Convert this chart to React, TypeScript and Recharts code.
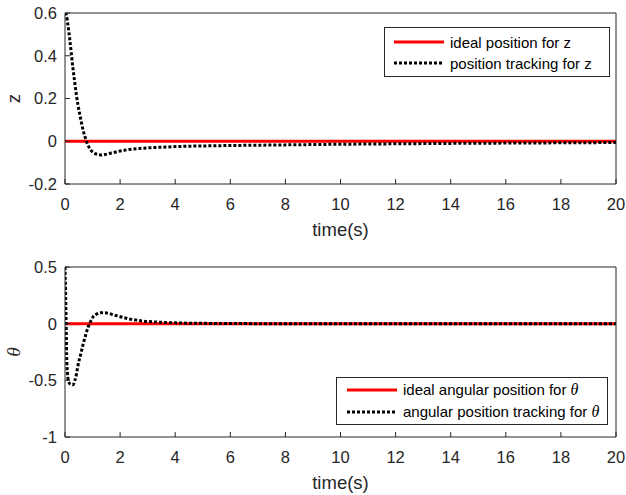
import React from 'react';
import { LineChart, Line, XAxis, YAxis, Legend } from 'recharts';

// ---------- data ----------
const xTicks = [0, 2, 4, 6, 8, 10, 12, 14, 16, 18, 20];
const zTicks = [-0.2, 0, 0.2, 0.4, 0.6];
const thetaTicks = [-1, -0.5, 0, 0.5];

const idealTime = [0, 20];
const idealZ = [0, 0];
const idealTheta = [0, 0];

const timeZ = [0, 0.05, 0.1, 0.17, 0.23, 0.29, 0.35, 0.41, 0.47, 0.53, 0.6, 0.67, 0.74, 0.8, 0.86, 0.93, 1.02, 1.14, 1.3, 1.45, 1.68, 2.0, 2.3, 2.7, 3.0, 3.5, 4, 5, 6, 8, 10, 12, 14, 17, 20];
const zTrack = [0.6, 0.59, 0.55, 0.48, 0.41, 0.34, 0.28, 0.22, 0.17, 0.13, 0.085, 0.045, 0.015, -0.008, -0.025, -0.04, -0.052, -0.06, -0.064, -0.062, -0.055, -0.046, -0.039, -0.034, -0.031, -0.028, -0.025, -0.022, -0.02, -0.017, -0.014, -0.012, -0.01, -0.008, -0.006];

const timeTheta = [0, 0.02, 0.04, 0.06, 0.09, 0.13, 0.2, 0.29, 0.36, 0.42, 0.47, 0.56, 0.65, 0.75, 0.84, 0.93, 1.02, 1.15, 1.32, 1.5, 1.8, 2.1, 2.41, 2.8, 3.26, 4, 5, 6, 8, 20];
const thetaTrack = [0.5, 0.3, 0.02, -0.28, -0.44, -0.51, -0.535, -0.54, -0.5, -0.44, -0.37, -0.28, -0.19, -0.1, -0.03, 0.02, 0.06, 0.085, 0.097, 0.095, 0.075, 0.055, 0.038, 0.024, 0.015, 0.007, 0.003, 0.001, 0, 0];

const zNames = ['ideal position for z', 'position tracking for z'];
const thetaNames = ['ideal angular position for θ', 'angular position tracking for θ'];

// ---------- tables built from arrays ----------
const toRows = (t: number[], v: number[]) => t.map((x, i) => ({ t: x, v: v[i] }));
const idealZRows = toRows(idealTime, idealZ);
const idealThetaRows = toRows(idealTime, idealTheta);
const zRows = toRows(timeZ, zTrack);
const thetaRows = toRows(timeTheta, thetaTrack);

// ---------- styles ----------
const INK = '#262626';
const FONT = '"Liberation Sans", Arial, Helvetica, sans-serif';
const SERIF = '"Liberation Serif", "Times New Roman", serif';
const TICK_FONT = 16.5;
const LABEL_FONT = 18.5;
const LEGEND_FONT = 15;

const W = 626;

const renderWithTheta = (s: string) => {
  const idx = s.indexOf('θ');
  if (idx < 0) return s;
  return (
    <>
      {s.slice(0, idx)}
      <span style={{ fontFamily: SERIF, fontStyle: 'italic', fontSize: LEGEND_FONT + 1 }}>θ</span>
      {s.slice(idx + 1)}
    </>
  );
};

const makeLegend = (
  names: string[],
  opts: { w: number; h: number; rows: number[]; lx0: number; lx1: number; tx: number }
) =>
  (props: any) => {
    const raw = (props.payload || []).slice();
    const payload = raw.sort((a: any, b: any) => names.indexOf(String(a.value)) - names.indexOf(String(b.value)));
    return (
      <div
        style={{
          position: 'relative',
          width: opts.w,
          height: opts.h,
          boxSizing: 'border-box',
          border: `1px solid ${INK}`,
          background: '#fff',
          fontFamily: FONT,
          fontSize: LEGEND_FONT,
          color: '#000',
        }}
      >
        <svg width={opts.w} height={opts.h} style={{ position: 'absolute', left: -1, top: -1 }}>
          {payload.map((p: any, i: number) => (
            <line
              key={i}
              x1={opts.lx0}
              x2={opts.lx1}
              y1={opts.rows[i]}
              y2={opts.rows[i]}
              stroke={p.color}
              strokeWidth={3}
              strokeDasharray={p.payload?.strokeDasharray}
            />
          ))}
        </svg>
        {payload.map((p: any, i: number) => (
          <div
            key={'t' + i}
            style={{
              position: 'absolute',
              left: opts.tx - 1,
              top: opts.rows[i] - 1,
              transform: 'translateY(-50%)',
              whiteSpace: 'nowrap',
              lineHeight: 1,
            }}
          >
            {renderWithTheta(String(p.value))}
          </div>
        ))}
      </div>
    );
  };

const yTitle = (text: string, italic: boolean) => (props: any) => {
  const vb = props.viewBox || { x: 8, y: 13, width: 57, height: 171 };
  const x = vb.x + 5.3;
  const y = vb.y + vb.height / 2;
  return (
    <text
      x={x}
      y={y}
      transform={`rotate(-90, ${x}, ${y})`}
      textAnchor="middle"
      dominantBaseline="central"
      fill={INK}
      fontSize={italic ? LABEL_FONT + 1 : LABEL_FONT}
      fontFamily={italic ? SERIF : FONT}
      fontStyle={italic ? 'italic' : 'normal'}
    >
      {text}
    </text>
  );
};

const xTitle = (props: any) => {
  const vb = props.viewBox || { x: 65, y: 184, width: 551, height: 64 };
  return (
    <text
      x={vb.x + vb.width / 2}
      y={vb.y + 45}
      textAnchor="middle"
      dominantBaseline="central"
      fill={INK}
      fontSize={LABEL_FONT}
      fontFamily={FONT}
    >
      time(s)
    </text>
  );
};

const noTick = () => null;

const tickStyle = { fill: INK, fontSize: TICK_FONT, fontFamily: FONT };

function Panel(props: {
  height: number;
  yDomain: [number, number];
  yTicks: number[];
  yLabel: string;
  italic: boolean;
  ideal: any[];
  track: any[];
  names: string[];
  legendPos: { left: number; top: number };
  legendOpts: { w: number; h: number; rows: number[]; lx0: number; lx1: number; tx: number };
}) {
  return (
    <LineChart width={W} height={props.height} margin={{ top: 12, right: 9, left: 8, bottom: 0 }}>
      <XAxis
        dataKey="t"
        type="number"
        domain={[0, 20]}
        ticks={xTicks}
        height={64}
        tickSize={-5}
        tickMargin={19}
        tick={tickStyle}
        stroke={INK}
        axisLine={{ stroke: INK }}
        tickLine={{ stroke: INK }}
        label={xTitle}
        allowDataOverflow
      />
      <XAxis
        xAxisId="top"
        orientation="top"
        dataKey="t"
        type="number"
        domain={[0, 20]}
        ticks={xTicks}
        height={1}
        tickSize={-5}
        tick={noTick}
        axisLine={{ stroke: INK }}
        tickLine={{ stroke: INK }}
      />
      <YAxis
        type="number"
        domain={props.yDomain}
        ticks={props.yTicks}
        width={57}
        tickSize={-5}
        tickMargin={13}
        tick={tickStyle}
        axisLine={{ stroke: INK }}
        tickLine={{ stroke: INK }}
        label={yTitle(props.yLabel, props.italic)}
        allowDataOverflow
      />
      <YAxis
        yAxisId="right"
        orientation="right"
        type="number"
        domain={props.yDomain}
        ticks={props.yTicks}
        width={1}
        tickSize={-5}
        tick={noTick}
        axisLine={{ stroke: INK }}
        tickLine={{ stroke: INK }}
      />
      <Line
        data={props.ideal}
        dataKey="v"
        name={props.names[0]}
        stroke="#ff0000"
        strokeWidth={3}
        dot={false}
        activeDot={false}
        isAnimationActive={false}
        type="linear"
      />
      <Line
        data={props.track}
        dataKey="v"
        name={props.names[1]}
        stroke="#000000"
        strokeWidth={3}
        strokeDasharray="3 2"
        dot={false}
        activeDot={false}
        isAnimationActive={false}
        type="monotone"
      />
      <Legend
        layout="vertical"
        align="center"
        verticalAlign="middle"
        itemSorter={null as any}
        wrapperStyle={{ left: props.legendPos.left, top: props.legendPos.top, width: props.legendOpts.w, height: props.legendOpts.h }}
        content={makeLegend(props.names, props.legendOpts)}
      />
    </LineChart>
  );
}

export default function App() {
  return (
    <div
      style={{
        position: 'absolute',
        left: 0,
        top: 0,
        width: W,
        height: 495,
        background: '#fff',
        fontFamily: FONT,
        overflow: 'hidden',
      }}
    >
      <div style={{ position: 'absolute', left: 0, top: 0 }}>
        <Panel
          height={248}
          yDomain={[-0.2, 0.6]}
          yTicks={zTicks}
          yLabel="z"
          italic={false}
          ideal={idealZRows}
          track={zRows}
          names={zNames}
          legendPos={{ left: 384, top: 27 }}
          legendOpts={{ w: 226, h: 50, rows: [15, 36], lx0: 10, lx1: 60, tx: 66 }}
        />
      </div>
      <div style={{ position: 'absolute', left: 0, top: 254 }}>
        <Panel
          height={247}
          yDomain={[-1, 0.5]}
          yTicks={thetaTicks}
          yLabel="θ"
          italic={true}
          ideal={idealThetaRows}
          track={thetaRows}
          names={thetaNames}
          legendPos={{ left: 336, top: 123 }}
          legendOpts={{ w: 272, h: 48, rows: [13, 35], lx0: 11, lx1: 61, tx: 67 }}
        />
      </div>
    </div>
  );
}
